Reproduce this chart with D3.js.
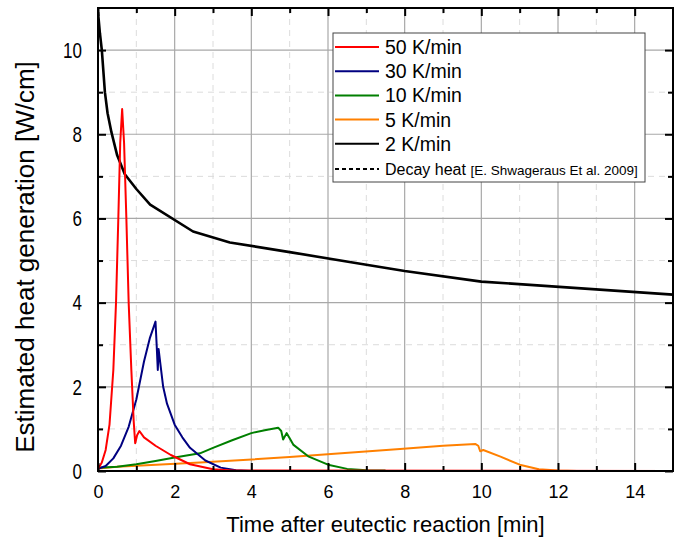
<!DOCTYPE html>
<html>
<head>
<meta charset="utf-8">
<script src="https://cdn.jsdelivr.net/npm/d3@7"></script>
<style>
body { margin: 0; background: #fff; }
text { font-family: "Liberation Sans", Arial, sans-serif; }
</style>
</head>
<body>
<script>
// data: [time min, heat W/cm]
var red50 = [[0,0.05],[0.1,0.2],[0.2,0.5],[0.3,1.1],[0.4,2.4],[0.47,4.0],[0.53,6.0],[0.58,7.8],[0.63,8.6],[0.68,7.8],[0.74,6.0],[0.8,4.0],[0.87,2.4],[0.93,1.2],[0.97,0.66],[1.02,0.85],[1.08,0.95],[1.2,0.8],[1.5,0.6],[1.9,0.38],[2.4,0.16],[3.0,0.04],[3.5,0.01],[15,0]];
var blue30 = [[0,0.05],[0.2,0.12],[0.4,0.3],[0.6,0.6],[0.8,1.05],[1.0,1.7],[1.2,2.6],[1.35,3.15],[1.5,3.55],[1.53,3.0],[1.56,2.4],[1.58,2.9],[1.62,2.6],[1.7,2.0],[1.8,1.6],[2.0,1.1],[2.2,0.8],[2.4,0.55],[2.8,0.25],[3.2,0.08],[3.6,0.02],[4,0]];
var green10 = [[0,0.08],[0.5,0.1],[1,0.16],[1.5,0.24],[2,0.32],[2.66,0.42],[3.0,0.55],[3.5,0.73],[4.0,0.9],[4.35,0.97],[4.7,1.03],[4.78,0.95],[4.83,0.75],[4.92,0.9],[5.0,0.78],[5.1,0.62],[5.5,0.34],[6.0,0.15],[6.5,0.05],[7.0,0.02],[7.5,0.01]];
var orange5 = [[0,0.06],[0.5,0.1],[2.66,0.2],[5,0.33],[7.88,0.52],[9,0.6],[9.6,0.63],[9.85,0.64],[9.92,0.6],[9.97,0.47],[10.05,0.5],[10.5,0.34],[11,0.15],[11.5,0.04],[12,0.01],[12.5,0]];
var black2 = [[0,10.9],[0.05,10.4],[0.1,10.0],[0.18,9.0],[0.25,8.5],[0.35,8.05],[0.5,7.5],[0.7,7.05],[1.0,6.7],[1.36,6.33],[2.48,5.69],[3.44,5.43],[5,5.2],[7,4.9],[8,4.75],[10,4.5],[15,4.19]];

var seriesNames = ['50 K/min', '30 K/min', '10 K/min', '5 K/min', '2 K/min'];
var seriesColors = ['#ff0000', '#000080', '#007f00', '#ff8000', '#000000'];
var seriesData = [red50, blue30, green10, orange5, black2];

var xTicks = [0, 2, 4, 6, 8, 10, 12, 14];
var yTicks = [0, 2, 4, 6, 8, 10];

var svg = d3.select("body")
    .append("svg")
    .attr("width", 688)
    .attr("height", 543)
    .style('display', 'block');

var margin = {top: 8, right: 15, bottom: 72, left: 98};
var width = 688 - margin.left - margin.right;
var height = 543 - margin.top - margin.bottom;

var x = d3.scaleLinear().domain([0, 15]).range([0, width]);
var y = d3.scaleLinear().domain([0, 11]).range([height, 0]);

var g = svg.append("g").attr("transform", "translate(" + margin.left + "," + margin.top + ")");

g.append("clipPath").attr("id", "clip")
    .append("rect").attr("width", width).attr("height", height);

//grid, minor dashed then major solid
var minorX = d3.range(1, 15, 2), majorX = d3.range(2, 15, 2);
var minorY = d3.range(1, 11, 2), majorY = d3.range(2, 11, 2);

g.selectAll('.vminor').data(minorX).enter().append('line')
    .attr('x1', x).attr('x2', x).attr('y1', 0).attr('y2', height)
    .attr('stroke', '#dcdcdc').attr('stroke-dasharray', '6,5');
g.selectAll('.hminor').data(minorY).enter().append('line')
    .attr('y1', y).attr('y2', y).attr('x1', 0).attr('x2', width)
    .attr('stroke', '#dcdcdc').attr('stroke-dasharray', '6,5');
g.selectAll('.vmajor').data(majorX).enter().append('line')
    .attr('x1', x).attr('x2', x).attr('y1', 0).attr('y2', height)
    .attr('stroke', '#a8a8a8').attr('stroke-width', 1.2);
g.selectAll('.hmajor').data(majorY).enter().append('line')
    .attr('y1', y).attr('y2', y).attr('x1', 0).attr('x2', width)
    .attr('stroke', '#a8a8a8').attr('stroke-width', 1.2);

//curves
var line = d3.line()
    .x(function (d) { return x(d[0]); })
    .y(function (d) { return y(d[1]); });

// black first so the coloured ones sit on top, red last
var order = [4, 3, 2, 1, 0];
order.forEach(function (i) {
    g.append('path')
        .datum(seriesData[i])
        .attr('clip-path', 'url(#clip)')
        .attr('d', line)
        .attr('fill', 'none')
        .attr('stroke', seriesColors[i])
        .attr('stroke-width', i == 4 ? 2.6 : 2)
        .attr('stroke-linejoin', 'round');
});

//axes with inward ticks on all four sides
function tickAxis(axis, tr) {
    var a = g.append('g').attr('transform', tr);
    a.call(axis);
    a.select('.domain').remove();
    a.selectAll('line').attr('stroke', '#000').attr('stroke-width', 2);
    return a;
}
var xMinorTicks = d3.range(1, 15, 2);
var yMinorTicks = d3.range(1, 11, 2);

var xb = tickAxis(d3.axisBottom(x).tickValues(xTicks).tickSize(-8).tickPadding(14).tickFormat(d3.format('d')), 'translate(0,' + height + ')');
xb.selectAll('text').style('font-size', '18px').attr('fill', '#000');
tickAxis(d3.axisBottom(x).tickValues(xMinorTicks).tickSize(-5).tickFormat(''), 'translate(0,' + height + ')');
tickAxis(d3.axisTop(x).tickValues(xTicks).tickSize(-8).tickFormat(''), 'translate(0,0)');
tickAxis(d3.axisTop(x).tickValues(xMinorTicks).tickSize(-5).tickFormat(''), 'translate(0,0)');

var yl = tickAxis(d3.axisLeft(y).tickValues(yTicks).tickSize(-8).tickPadding(16).tickFormat(d3.format('d')), 'translate(0,0)');
// the y labels in the original look stretched vertically
yl.selectAll('text').style('font-size', '17px').attr('fill', '#000')
    .attr('transform', 'scale(1,1.35)');
tickAxis(d3.axisLeft(y).tickValues(yMinorTicks).tickSize(-5).tickFormat(''), 'translate(0,0)');
tickAxis(d3.axisRight(y).tickValues(yTicks).tickSize(-8).tickFormat(''), 'translate(' + width + ',0)');
tickAxis(d3.axisRight(y).tickValues(yMinorTicks).tickSize(-5).tickFormat(''), 'translate(' + width + ',0)');

//frame
g.append('rect')
    .attr('width', width).attr('height', height)
    .attr('fill', 'none').attr('stroke', '#000').attr('stroke-width', 2);

//axis titles
svg.append('text')
    .attr('x', margin.left + width / 2)
    .attr('y', 532)
    .attr('text-anchor', 'middle')
    .style('font-size', '22px')
    .text('Time after eutectic reaction [min]');

svg.append('text')
    .attr('transform', 'translate(34,257) rotate(-90)')
    .attr('text-anchor', 'middle')
    .style('font-size', '26px')
    .text('Estimated heat generation [W/cm]');

//legend
var lg = svg.append('g').attr('transform', 'translate(333,33)');
lg.append('rect')
    .attr('width', 312).attr('height', 149)
    .attr('fill', '#fff').attr('stroke', '#444').attr('stroke-width', 1);

lg.selectAll('.lline').data(seriesNames).enter().append('line')
    .attr('x1', 2).attr('x2', 46)
    .attr('y1', function (d, i) { return 14 + i * 24.2; })
    .attr('y2', function (d, i) { return 14 + i * 24.2; })
    .attr('stroke', function (d, i) { return seriesColors[i]; })
    .attr('stroke-width', 2);

lg.selectAll('.ltext').data(seriesNames).enter().append('text')
    .attr('x', 52)
    .attr('y', function (d, i) { return 14 + i * 24.2; })
    .attr('dy', '0.36em')
    .style('font-size', '19.5px')
    .text(function (d) { return d; });

lg.append('line')
    .attr('x1', 2).attr('x2', 46).attr('y1', 136).attr('y2', 136)
    .attr('stroke', '#000').attr('stroke-width', 2).attr('stroke-dasharray', '4,3');
var dt = lg.append('text').attr('x', 52).attr('y', 136).attr('dy', '0.36em');
dt.append('tspan').style('font-size', '16px').text('Decay heat ');
dt.append('tspan').style('font-size', '13.5px').text('[E. Shwageraus Et al. 2009]');
</script>
</body>
</html>
